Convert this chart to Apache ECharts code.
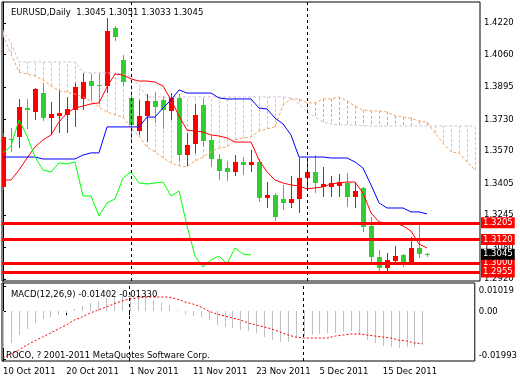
<!DOCTYPE html>
<html><head><meta charset="utf-8">
<script src="https://cdn.jsdelivr.net/npm/echarts@6/dist/echarts.min.js"></script>
<style>html,body{margin:0;padding:0;background:#fff}#c{width:520px;height:380px}</style>
</head><body><div id="c"></div>
<script>
const dates = ['10 Oct 2011','11 Oct 2011','12 Oct 2011','13 Oct 2011','14 Oct 2011','17 Oct 2011','18 Oct 2011','19 Oct 2011','20 Oct 2011','21 Oct 2011','24 Oct 2011','25 Oct 2011','26 Oct 2011','27 Oct 2011','28 Oct 2011','31 Oct 2011','1 Nov 2011','2 Nov 2011','3 Nov 2011','4 Nov 2011','7 Nov 2011','8 Nov 2011','9 Nov 2011','10 Nov 2011','11 Nov 2011','14 Nov 2011','15 Nov 2011','16 Nov 2011','17 Nov 2011','18 Nov 2011','21 Nov 2011','22 Nov 2011','23 Nov 2011','24 Nov 2011','25 Nov 2011','28 Nov 2011','29 Nov 2011','30 Nov 2011','1 Dec 2011','2 Dec 2011','5 Dec 2011','6 Dec 2011','7 Dec 2011','8 Dec 2011','9 Dec 2011','12 Dec 2011','13 Dec 2011','14 Dec 2011','15 Dec 2011','16 Dec 2011','19 Dec 2011','20 Dec 2011','21 Dec 2011','22 Dec 2011'];
const open = [1.3387,1.3631,1.3641,1.3788,1.3768,1.3864,1.3737,1.3748,1.3753,1.3778,
1.3834,1.3925,1.3905,1.3900,1.4195,1.4032,1.3839,1.3671,1.3748,1.3824,
1.3829,1.3773,1.3839,1.3549,1.3605,1.3803,1.3626,1.3529,1.3483,1.3463,
1.3514,1.3499,1.3514,1.3331,1.3346,1.3326,1.3306,1.3326,1.3433,1.3463,
1.3387,1.3387,1.3392,1.3407,1.3336,1.3382,1.3189,1.3031,1.2975,1.3011,
1.3041,1.2996,1.3077,1.3045];
const high = [1.3661,1.3687,1.3834,1.3834,1.3890,1.3915,1.3819,1.3880,1.3844,1.3915,
1.3966,1.3961,1.3966,1.4245,1.4205,1.4057,1.3869,1.3829,1.3859,1.3869,
1.3849,1.3864,1.3859,1.3661,1.3809,1.3839,1.3646,1.3555,1.3519,1.3549,
1.3539,1.3575,1.3529,1.3412,1.3356,1.3397,1.3443,1.3534,1.3524,1.3549,
1.3489,1.3443,1.3453,1.3458,1.3412,1.3387,1.3235,1.3067,1.3052,1.3087,
1.3047,1.3133,1.3199,1.3051];
const low = [1.3372,1.3565,1.3585,1.3682,1.3727,1.3722,1.3651,1.3661,1.3661,1.3692,
1.3778,1.3824,1.3809,1.3864,1.4129,1.3900,1.3610,1.3651,1.3615,1.3712,
1.3682,1.3727,1.3514,1.3494,1.3560,1.3590,1.3489,1.3422,1.3417,1.3443,
1.3448,1.3463,1.3311,1.3280,1.3214,1.3270,1.3280,1.3255,1.3377,1.3356,
1.3336,1.3336,1.3336,1.3285,1.3280,1.3158,1.3006,1.2950,1.2955,1.2991,
1.2980,1.2991,1.3026,1.3033];
const close = [1.3641,1.3625,1.3793,1.3778,1.3885,1.3737,1.3758,1.3763,1.3783,1.3895,
1.3920,1.3900,1.3898,1.4179,1.4149,1.3920,1.3702,1.3748,1.3824,1.3793,
1.3778,1.3839,1.3549,1.3600,1.3753,1.3621,1.3529,1.3468,1.3463,1.3514,
1.3499,1.3514,1.3331,1.3346,1.3235,1.3306,1.3326,1.3433,1.3463,1.3407,
1.3402,1.3407,1.3412,1.3336,1.3367,1.3184,1.3031,1.2975,1.3016,1.3036,
1.2991,1.3077,1.3046,1.3045];
const tenkan = [1.3422,1.3422,1.3473,1.3534,1.3590,1.3626,1.3651,1.3717,1.3763,1.3788,
1.3798,1.3809,1.3814,1.3895,1.3961,1.3956,1.3936,1.3925,1.3925,1.3920,
1.3900,1.3829,1.3748,1.3676,1.3671,1.3666,1.3651,1.3646,1.3636,1.3615,
1.3615,1.3615,1.3524,1.3463,1.3422,1.3407,1.3397,1.3392,1.3377,1.3382,
1.3387,1.3402,1.3407,1.3412,1.3412,1.3356,1.3255,1.3209,1.3204,1.3204,
1.3189,1.3163,1.3097,1.3077];
const kijun = [1.3539,1.3539,1.3539,1.3539,1.3539,1.3529,1.3529,1.3529,1.3529,1.3529,
1.3549,1.3560,1.3560,1.3692,1.3692,1.3692,1.3692,1.3692,1.3742,1.3742,
1.3788,1.3829,1.3880,1.3864,1.3864,1.3864,1.3864,1.3839,1.3834,1.3834,
1.3834,1.3834,1.3788,1.3783,1.3737,1.3707,1.3651,1.3539,1.3539,1.3539,
1.3539,1.3534,1.3534,1.3534,1.3514,1.3483,1.3397,1.3306,1.3280,1.3280,
1.3280,1.3260,1.3260,1.3250];
const chikou = [1.3560,1.3595,1.3727,1.3646,1.3539,1.3473,1.3463,1.3509,1.3504,1.3514,
1.3341,1.3341,1.3240,1.3306,1.3326,1.3433,1.3463,1.3407,1.3402,1.3407,
1.3412,1.3341,1.3367,1.3189,1.3036,1.2980,1.3016,1.3036,1.2996,1.3077,
1.3046,1.3041];
const senkouA = [1.4159,1.4063,1.3971,1.3961,1.3951,1.3930,1.3900,1.3875,1.3869,1.3859,
1.3844,1.3824,1.3793,1.3768,1.3753,1.3742,1.3687,1.3646,1.3590,1.3565,
1.3534,1.3509,1.3494,1.3489,1.3519,1.3539,1.3565,1.3585,1.3590,1.3626,
1.3636,1.3641,1.3671,1.3682,1.3692,1.3803,1.3834,1.3834,1.3814,1.3814,
1.3834,1.3834,1.3844,1.3824,1.3798,1.3778,1.3773,1.3773,1.3768,1.3748,
1.3742,1.3737,1.3722,1.3717,1.3661,1.3610,1.3565,1.3560,1.3514,1.3473];
const senkouB = [1.4184,1.4118,1.4022,1.4022,1.4022,1.4022,1.4022,1.4022,1.4022,1.4022,
1.3971,1.3966,1.3966,1.3966,1.3966,1.3961,1.3946,1.3905,1.3844,1.3844,
1.3844,1.3844,1.3844,1.3844,1.3844,1.3844,1.3844,1.3844,1.3844,1.3844,
1.3844,1.3844,1.3844,1.3844,1.3844,1.3844,1.3839,1.3809,1.3768,1.3742,
1.3717,1.3707,1.3702,1.3702,1.3702,1.3697,1.3697,1.3697,1.3697,1.3697,
1.3697,1.3697,1.3697,1.3697,1.3697,1.3697,1.3697,1.3697,1.3697,1.3697];
const macdHist = [-0.01510,-0.01292,-0.00975,-0.00741,-0.00494,-0.00329,-0.00222,-0.00152,-0.00058,0.00082,
0.00230,0.00354,0.00436,0.00535,0.00630,0.00712,0.00741,0.00671,0.00601,0.00465,
0.00329,0.00259,0.00053,-0.00123,-0.00152,-0.00222,-0.00358,-0.00564,-0.00658,-0.00700,
-0.00770,-0.00811,-0.00893,-0.01045,-0.01181,-0.01251,-0.01251,-0.01111,-0.01016,-0.00975,
-0.00934,-0.00905,-0.00881,-0.00840,-0.00811,-0.00975,-0.01181,-0.01317,-0.01428,-0.01481,
-0.01523,-0.01481,-0.01457,-0.01402];
const macdSignal = [-0.01922,-0.01757,-0.01593,-0.01387,-0.01222,-0.01058,-0.00893,-0.00728,-0.00564,-0.00358,
-0.00235,-0.00070,0.00053,0.00177,0.00300,0.00424,0.00506,0.00547,0.00588,0.00588,
0.00588,0.00588,0.00506,0.00383,0.00300,0.00177,0.00012,-0.00111,-0.00193,-0.00276,
-0.00358,-0.00481,-0.00564,-0.00646,-0.00728,-0.00852,-0.00975,-0.01058,-0.01099,-0.01099,
-0.01099,-0.01099,-0.01016,-0.00975,-0.00934,-0.00934,-0.00975,-0.01016,-0.01058,-0.01099,
-0.01181,-0.01222,-0.01305,-0.01330];
const priceTicks = [1.4220,1.4060,1.3895,1.3730,1.3570,1.3405,1.3245,1.3080,1.2920];
const levels = [1.3205,1.3120,1.3000,1.2955];
const bid = 1.3045;
const macdTicks = [0.01019,0,-0.01993];
const macdTickLabels = ['0.01019','0.00','-0.01993'];
const xTickLabels = ['10 Oct 2011','20 Oct 2011','1 Nov 2011','11 Nov 2011','23 Nov 2011','5 Dec 2011','15 Dec 2011'];
const separators = ['1 Nov 2011','1 Dec 2011'];
const symbolName = 'EURUSD,Daily';
const macdName = 'MACD(12,26,9)';
const copyright = 'ROCO, ? 2001-2011 MetaQuotes Software Corp.';

const F = '"DejaVu Sans", sans-serif';
const FS = 8.5;
const BULL = '#FF0000', BEAR = '#32CD32', SANDY = '#F4A460', THISTLE = '#D8BFD8';
const N = dates.length;
const last = N - 1;
const xTickIdx = xTickLabels.map(d => dates.indexOf(d));
const sepIdx = separators.map(d => dates.indexOf(d));
const XMIN = -0.125, XMAX = 59.625;

const chart = echarts.init(document.getElementById('c'), null, {renderer: 'canvas'});

const levelLabel = (txt, bg) => ({show: true, position: 'end', distance: 1, formatter: txt,
  color: '#fff', backgroundColor: bg, fontFamily: F, fontSize: FS, padding: [1, 2, 0, 2], lineHeight: 10});

const option = {
  animation: false,
  backgroundColor: '#fff',
  title: [
    {text: symbolName + '  ' + [open[last], high[last], low[last], close[last]].map(v => v.toFixed(4)).join(' '),
     left: 6, top: 3, textStyle: {fontFamily: F, fontSize: FS, fontWeight: 'normal', color: '#000'}},
    {text: macdName + ' ' + macdHist[last].toFixed(5) + ' ' + macdSignal[last].toFixed(5),
     left: 6, top: 285, textStyle: {fontFamily: F, fontSize: FS, fontWeight: 'normal', color: '#000'}},
    {text: copyright, left: 1, top: 346, textStyle: {fontFamily: F, fontSize: FS, fontWeight: 'normal', color: '#000'}}
  ],
  grid: [
    {left: 2, top: 2, right: 40, height: 279, show: true, borderColor: '#000', borderWidth: 1, backgroundColor: 'transparent'},
    {left: 2, top: 283, right: 40, height: 78, show: true, borderColor: '#000', borderWidth: 1, backgroundColor: 'transparent'}
  ],
  xAxis: [
    {type: 'value', gridIndex: 0, min: XMIN, max: XMAX, show: false},
    {type: 'value', gridIndex: 1, min: XMIN, max: XMAX,
     axisLine: {show: false}, splitLine: {show: false},
     axisTick: {show: true, customValues: xTickIdx, length: 4, lineStyle: {color: '#000'}},
     axisLabel: {show: true, customValues: xTickIdx, align: 'left', margin: 6, fontFamily: F, fontSize: FS, color: '#000',
       formatter: v => xTickLabels[xTickIdx.indexOf(Math.round(v))]}}
  ],
  yAxis: [
    {type: 'value', gridIndex: 0, position: 'right', min: 1.290902, max: 1.432671,
     axisLine: {show: true, lineStyle: {color: '#000'}}, splitLine: {show: false},
     axisTick: {show: true, customValues: priceTicks, length: 3, lineStyle: {color: '#000'}},
     axisLabel: {show: true, customValues: priceTicks, margin: 4, fontFamily: F, fontSize: FS, color: '#000',
       formatter: v => v.toFixed(4)}},
    {type: 'value', gridIndex: 1, position: 'right', min: -0.02045, max: 0.01165,
     axisLine: {show: true, lineStyle: {color: '#000'}}, splitLine: {show: false},
     axisTick: {show: true, customValues: macdTicks, length: 3, lineStyle: {color: '#000'}},
     axisLabel: {show: true, customValues: macdTicks, margin: 4, fontFamily: F, fontSize: FS, color: '#000',
       backgroundColor: 'transparent',
       formatter: v => {
         const k = macdTicks.findIndex(t => Math.abs(t - v) < 1e-9);
         const s = macdTickLabels[k];
         return k === 0 ? '{macdTop|' + s + '}' : (k === 2 ? '{macdBot|' + s + '}' : s);
       },
       rich: {macdTop: {fontFamily: F, fontSize: FS, color: '#000', backgroundColor: 'transparent', padding: [9, 0, 0, 0]},
              macdBot: {fontFamily: F, fontSize: FS, color: '#000', backgroundColor: 'transparent', padding: [0, 0, 7, 0]}}}}
  ],
  series: [
    {type: 'custom', name: 'kumo', xAxisIndex: 0, yAxisIndex: 0, silent: true, clip: true,
     data: senkouA.map((a, i) => [i, a, senkouB[i]]),
     encode: {x: 0, y: [1, 2]},
     renderItem: (params, api) => {
       const i = api.value(0), a = api.value(1), b = api.value(2);
       const p1 = api.coord([i, a]), p2 = api.coord([i, b]);
       const x = Math.round(p1[0]) + 0.5;
       return {type: 'line', shape: {x1: x, y1: p1[1], x2: x, y2: p2[1]},
         style: {stroke: a >= b ? SANDY : THISTLE, lineWidth: 1, lineDash: [3, 2]}};
     },
     markLine: {silent: true, symbol: ['none', 'none'], label: {show: false}, precision: 5,
       lineStyle: {color: '#000', width: 1, type: [3, 3]},
       data: sepIdx.map(i => ({xAxis: i}))}},
    {type: 'line', name: 'Senkou A', xAxisIndex: 0, yAxisIndex: 0, silent: true, symbol: 'none',
     data: senkouA.map((v, i) => [i, v]), lineStyle: {color: SANDY, width: 1, type: [3, 2]}},
    {type: 'line', name: 'Senkou B', xAxisIndex: 0, yAxisIndex: 0, silent: true, symbol: 'none',
     data: senkouB.map((v, i) => [i, v]), lineStyle: {color: THISTLE, width: 1, type: [3, 2]}},
    {type: 'custom', name: 'EURUSD', xAxisIndex: 0, yAxisIndex: 0, silent: true, clip: true,
     data: dates.map((d, i) => [i, open[i], close[i], low[i], high[i]]),
     encode: {x: 0, y: [1, 2, 3, 4]},
     renderItem: (params, api) => {
       const i = api.value(0), o = api.value(1), c = api.value(2), l = api.value(3), h = api.value(4);
       const x = Math.round(api.coord([i, o])[0]);
       const yo = api.coord([i, o])[1], yc = api.coord([i, c])[1];
       const yl = Math.round(api.coord([i, l])[1]), yh = Math.round(api.coord([i, h])[1]);
       const col = c > o ? BULL : BEAR;
       const top = Math.round(Math.min(yo, yc)), bot = Math.round(Math.max(yo, yc));
       return {type: 'group', children: [
         {type: 'rect', shape: {x: x, y: yh, width: 1, height: Math.max(1, yl - yh)}, style: {fill: col}},
         {type: 'rect', shape: {x: x - 2, y: top, width: 5, height: Math.max(1, bot - top)}, style: {fill: col}}
       ]};
     }},
    {type: 'line', name: 'Tenkan', xAxisIndex: 0, yAxisIndex: 0, silent: true, symbol: 'none',
     data: tenkan.map((v, i) => [i, v]), lineStyle: {color: '#FF0000', width: 1}},
    {type: 'line', name: 'Kijun', xAxisIndex: 0, yAxisIndex: 0, silent: true, symbol: 'none',
     data: kijun.map((v, i) => [i, v]), lineStyle: {color: '#0000FF', width: 1}},
    {type: 'line', name: 'Chikou', xAxisIndex: 0, yAxisIndex: 0, silent: true, symbol: 'none',
     data: chikou.map((v, i) => [i, v]), lineStyle: {color: '#00FF00', width: 1},
     markLine: {silent: true, symbol: ['none', 'none'], precision: 5,
       data: levels.map(v => ({yAxis: v, lineStyle: {color: '#FF0000', width: 3, type: 'solid'},
         label: levelLabel(v.toFixed(4), '#FF0000')}))
         .concat([{yAxis: bid, lineStyle: {color: 'rgba(0,0,0,0)', width: 1, type: 'solid'},
           label: levelLabel(bid.toFixed(4), '#000000')}])}},
    {type: 'custom', name: 'MACD', xAxisIndex: 1, yAxisIndex: 1, silent: true, clip: true,
     data: macdHist.map((v, i) => [i, v]),
     encode: {x: 0, y: 1},
     renderItem: (params, api) => {
       const i = api.value(0), v = api.value(1);
       const p0 = api.coord([i, 0]), p1 = api.coord([i, v]);
       const x = Math.round(p0[0]);
       const y0 = Math.round(p0[1]), y1 = Math.round(p1[1]);
       return {type: 'rect', shape: {x: x, y: Math.min(y0, y1), width: 1, height: Math.max(1, Math.abs(y1 - y0))},
         style: {fill: '#C0C0C0'}};
     },
     markLine: {silent: true, symbol: ['none', 'none'], label: {show: false}, precision: 5,
       lineStyle: {color: '#000', width: 1, type: [3, 3]},
       data: sepIdx.map(i => ({xAxis: i}))}},
    {type: 'line', name: 'Signal', xAxisIndex: 1, yAxisIndex: 1, silent: true, symbol: 'none',
     data: macdSignal.map((v, i) => [i, v]), lineStyle: {color: '#FF0000', width: 1, type: [2, 2]}}
  ]
};
chart.setOption(option);
</script>
</body></html>
